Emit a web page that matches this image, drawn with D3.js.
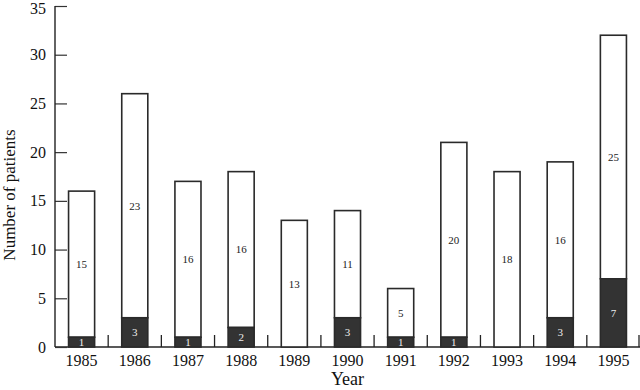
<!DOCTYPE html>
<html lang="en">
<head>
<meta charset="UTF-8">
<title>Patients per year</title>
<style>
  body { margin: 0; background: #fff; }
  text { font-family: "Liberation Serif", "DejaVu Serif", serif; }
</style>
</head>
<body>
<div id="chart"></div>
<script src="https://d3js.org/d3.v7.min.js"></script>
<script>
const years = ["1985", "1986", "1987", "1988", "1989", "1990", "1991", "1992", "1993", "1994", "1995"]
const darkCounts = [1, 3, 1, 2, 0, 3, 1, 1, 0, 3, 7]
const whiteCounts = [15, 23, 16, 16, 13, 11, 5, 20, 18, 16, 25]
const yTicks = [0, 5, 10, 15, 20, 25, 30, 35]

const MARGIN = { LEFT: 55, RIGHT: 0, TOP: 6, BOTTOM: 43 }
const W = 640, H = 390
const WIDTH = W - MARGIN.LEFT - MARGIN.RIGHT
const HEIGHT = H - MARGIN.TOP - MARGIN.BOTTOM

const svg = d3.select("#chart").append("svg")
    .attr("width", W)
    .attr("height", H)

const g = svg.append("g")
    .attr("transform", `translate(${MARGIN.LEFT}, ${MARGIN.TOP})`)

const x = d3.scaleBand()
    .domain(years)
    .range([0, WIDTH])
    .paddingInner(0.51)
    .paddingOuter(0.255)

const y = d3.scaleLinear()
    .domain([0, 35])
    .range([HEIGHT, 0])

const data = years.map((yr, i) => ({ year: yr, dark: darkCounts[i], white: whiteCounts[i] }))

// x axis baseline
g.append("line")
    .attr("x1", 0).attr("x2", WIDTH)
    .attr("y1", HEIGHT).attr("y2", HEIGHT)
    .attr("stroke", "#222").attr("stroke-width", 1.4)

// separators between years (upward ticks on the baseline)
const step = x.step()
const sepX = years.map(d => Math.min(x(d) + x.bandwidth() / 2 + step / 2, WIDTH - 1))
g.append("g").attr("class", "seps")
    .selectAll("line").data(sepX).join("line")
    .attr("x1", d => d)
    .attr("x2", d => d)
    .attr("y1", HEIGHT)
    .attr("y2", HEIGHT - 12)
    .attr("stroke", "#222")
    .attr("stroke-width", 1.3)

// bars: white part on top, dark part at bottom
const bars = g.selectAll(".bar").data(data).enter().append("g").attr("class", "bar")

bars.append("rect")
    .attr("x", d => x(d.year))
    .attr("width", x.bandwidth())
    .attr("y", d => y(d.dark + d.white))
    .attr("height", d => y(d.dark) - y(d.dark + d.white))
    .attr("fill", "#fff")
    .attr("stroke", "#2a2a2a")
    .attr("stroke-width", 1.6)

bars.filter(d => d.dark > 0).append("rect")
    .attr("x", d => x(d.year))
    .attr("width", x.bandwidth())
    .attr("y", d => y(d.dark))
    .attr("height", d => y(0) - y(d.dark))
    .attr("fill", "#333")
    .attr("stroke", "#2a2a2a")
    .attr("stroke-width", 1.6)

bars.append("text")
    .attr("x", d => x(d.year) + x.bandwidth() / 2)
    .attr("y", d => y(d.dark + d.white / 2))
    .attr("dy", "0.35em")
    .attr("text-anchor", "middle")
    .attr("font-size", 11)
    .attr("fill", "#222")
    .text(d => d.white)

bars.filter(d => d.dark > 0).append("text")
    .attr("x", d => x(d.year) + x.bandwidth() / 2)
    .attr("y", d => y(d.dark / 2))
    .attr("dy", "0.35em")
    .attr("text-anchor", "middle")
    .attr("font-size", 11)
    .attr("fill", "#eee")
    .text(d => d.dark)

// y axis with inward ticks
const yAxis = g.append("g")
    .call(d3.axisRight(y).tickValues(yTicks).tickSize(12).tickFormat(""))
yAxis.select(".domain").remove()
yAxis.selectAll("line").attr("stroke", "#333").attr("stroke-width", 1.2)
g.append("line")
    .attr("x1", 0).attr("x2", 0)
    .attr("y1", 0).attr("y2", HEIGHT)
    .attr("stroke", "#222").attr("stroke-width", 1.4)
g.selectAll(".ylab").data(yTicks).enter().append("text")
    .attr("class", "ylab")
    .attr("x", -9)
    .attr("y", d => y(d))
    .attr("dy", d => d === 35 ? "0.5em" : "0.35em")
    .attr("text-anchor", "end")
    .attr("font-size", 16)
    .attr("fill", "#111")
    .text(d => d)

g.selectAll(".xlab").data(years).enter().append("text")
    .attr("class", "xlab")
    .attr("x", d => x(d) + x.bandwidth() / 2)
    .attr("y", HEIGHT + 19)
    .attr("text-anchor", "middle")
    .attr("font-size", 16)
    .attr("fill", "#111")
    .text(d => d)

// axis titles
g.append("text")
    .attr("x", WIDTH / 2)
    .attr("y", HEIGHT + 38)
    .attr("text-anchor", "middle")
    .attr("font-size", 18)
    .attr("fill", "#111")
    .text("Year")

svg.append("text")
    .attr("transform", "translate(15, 195) rotate(-90)")
    .attr("text-anchor", "middle")
    .attr("font-size", 17)
    .attr("fill", "#111")
    .text("Number of patients")
</script>
</body>
</html>
